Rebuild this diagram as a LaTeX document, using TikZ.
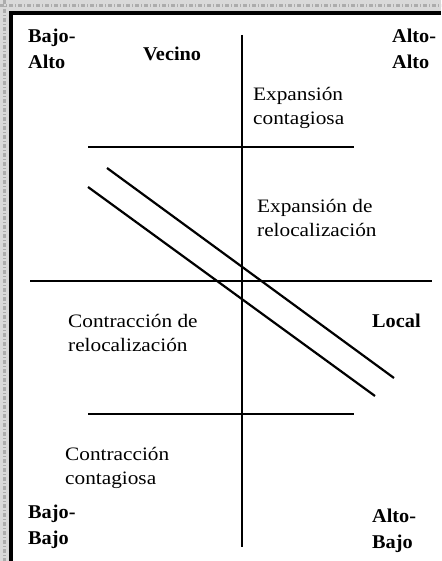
\documentclass[tikz,border=0pt]{standalone}
\usepackage{fontspec}
\setmainfont{Liberation Serif}[FakeStretch=1.12]
\newfontfamily\lblbold{Liberation Serif}[FakeStretch=1.04]
\begin{document}
\begin{tikzpicture}[x=1pt,y=-1pt,
  axis/.style={line width=2.2pt,black},
  plain/.style={anchor=north west,inner sep=0pt,align=left,font=\fontsize{19}{24.5}\selectfont},
  strong/.style={anchor=north west,inner sep=0pt,align=left,font=\lblbold\bfseries\fontsize{19.5}{26}\selectfont}]
\useasboundingbox (0,0) rectangle (441,561);
% decorative page border
\fill[gray!30] (0,0) rectangle (441,11);
\fill[gray!30] (0,0) rectangle (9,561);
\draw[gray!65,line width=3pt,dash pattern=on 4pt off 2pt on 1pt off 2pt] (0,5.5) -- (441,5.5);
\draw[gray!65,line width=3pt,dash pattern=on 4pt off 2pt on 1pt off 2pt] (4.5,0) -- (4.5,561);
\draw[black,line width=3.5pt] (11,561) -- (11,13) -- (441,13);
% coordinates
\coordinate (vt) at (242,35);
\coordinate (vb) at (242,547);
\coordinate (hl) at (30,281);
\coordinate (hr) at (432,281);
\coordinate (ul) at (88,147);
\coordinate (ur) at (354,147);
\coordinate (ll) at (88,414);
\coordinate (lr) at (354,414);
\coordinate (d1a) at (107,168);
\coordinate (d1b) at (394,378);
\coordinate (d2a) at (88,187);
\coordinate (d2b) at (375,396);
\draw[axis] (vt) -- (vb);
\draw[axis] (hl) -- (hr);
\draw[axis] (ul) -- (ur);
\draw[axis] (ll) -- (lr);
\draw[axis] (d1a) -- (d1b);
\draw[axis] (d2a) -- (d2b);
% labels
\node[strong] (ba) at (28,29) {Bajo-\\Alto};
\node[strong] (vec) at (143,47) {Vecino};
\node[strong] (aa) at (392,29) {Alto-\\Alto};
\node[plain] (ec) at (253,87) {Expansión\\contagiosa};
\node[plain] (er) at (257,199) {Expansión de\\relocalización};
\node[plain] (cr) at (68,314) {Contracción de\\relocalización};
\node[strong] (loc) at (372,314) {Local};
\node[plain] (cc) at (65,447) {Contracción\\contagiosa};
\node[strong] (bb) at (28,505) {Bajo-\\Bajo};
\node[strong] (ab) at (372,509) {Alto-\\Bajo};
\end{tikzpicture}
\end{document}
